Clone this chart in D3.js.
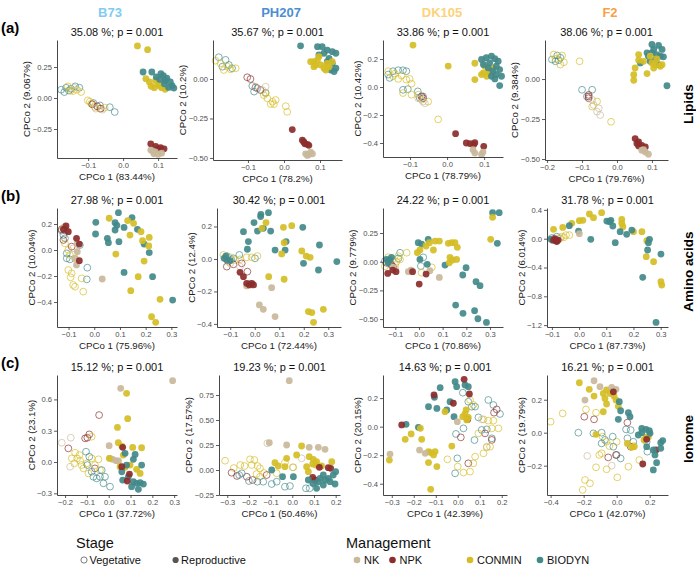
<!DOCTYPE html>
<html><head><meta charset="utf-8">
<script src="https://cdn.jsdelivr.net/npm/d3@7"></script>
<style>body{margin:0;background:#fff} text{font-family:"Liberation Sans",Arial,Helvetica,sans-serif}</style>
</head><body><svg id="c" width="696" height="571"></svg>
<script>
// ---------------- DATA ----------------
const genotypes = ["B73","PH207","DK105","F2"];
const traits = ["Lipids","Amino acids","Ionome"];
const panelLetters = ["(a)","(b)","(c)"];
const effectSize = [["35.08","35.67","33.86","38.06"],["27.98","30.42","24.22","31.78"],["15.12","19.23","14.63","16.21"]];
const pValue = "0.001";
const pco1Pct = [["83.44","78.2","78.79","79.76"],["75.96","72.44","70.86","87.73"],["37.72","50.46","42.39","42.07"]];
const pco2Pct = [["9.067","10.2","10.42","9.384"],["10.04","12.4","9.779","6.014"],["23.1","17.57","20.15","19.79"]];
const managements = ["NK","NPK","CONMIN","BIODYN"];
const stages = ["Vegetative","Reproductive"];

const xTickValues = [
 [[-0.1,0,0.1],[-0.1,0,0.1],[-0.1,0,0.1],[-0.2,-0.1,0,0.1]],
 [[-0.1,0,0.1,0.2,0.3],[-0.1,0,0.1,0.2,0.3],[-0.1,0,0.1,0.2,0.3],[-0.1,0,0.1,0.2,0.3]],
 [[-0.2,-0.1,0,0.1,0.2,0.3],[-0.3,-0.2,-0.1,0,0.1,0.2],[-0.3,-0.2,-0.1,0,0.1,0.2],[-0.4,-0.2,0,0.2]]
];
const yTickValues = [
 [[-0.25,0,0.25],[-0.5,-0.25,0],[-0.4,-0.2,0,0.2],[-0.5,-0.25,0]],
 [[-0.4,-0.2,0,0.2],[-0.4,-0.2,0,0.2],[-0.5,-0.25,0,0.25],[-1.2,-0.8,-0.4,0,0.4]],
 [[-0.3,0,0.3,0.6],[-0.25,0,0.25,0.5,0.75],[-0.4,-0.2,0,0.2],[-0.2,0,0.2]]
];
const yTickFormat = [[".2f",".2f",".1f",".2f"],[".1f",".1f",".2f",".1f"],[".1f",".2f",".1f",".1f"]];

// Points: [management, stage (V = vegetative, R = reproductive), [[PCo1, PCo2], ...]]
const lipB73 = [
 ["BIODYN","V",[[-0.177,0.067],[-0.168,0.048],[-0.163,0.083],[-0.149,0.075],[-0.137,0.094],[-0.125,0.083],[-0.155,0.06],[-0.085,-0.04],[-0.066,-0.06],[-0.038,-0.074],[-0.024,-0.113]]],
 ["CONMIN","V",[[-0.158,0.094],[-0.143,0.056],[-0.132,0.067],[-0.12,0.048],[-0.15,0.06],[-0.101,-0.019],[-0.091,-0.046],[-0.081,-0.073],[-0.067,-0.086],[-0.053,-0.078],[-0.095,-0.03]]],
 ["NPK","V",[[-0.088,-0.051],[-0.074,-0.067],[-0.064,-0.086]]],
 ["NK","V",[[-0.14,0.083],[-0.059,-0.094],[-0.078,-0.086]]],
 ["CONMIN","R",[[0.041,0.42],[0.07,0.39],[0.065,0.156],[0.093,0.142],[0.103,0.10],[0.089,0.083],[0.11,0.083],[0.12,0.07],[0.08,0.095],[0.075,0.13],[0.1,0.12]]],
 ["BIODYN","R",[[0.057,0.21],[0.082,0.21],[0.108,0.196],[0.115,0.18],[0.125,0.16],[0.135,0.13],[0.14,0.10],[0.13,0.085],[0.145,0.08],[0.12,0.14],[0.105,0.15],[0.095,0.17],[0.118,0.115]]],
 ["NPK","R",[[0.079,-0.37],[0.093,-0.39],[0.107,-0.40],[0.117,-0.41],[0.1,-0.41]]],
 ["NK","R",[[0.079,-0.42],[0.088,-0.45],[0.1,-0.455],[0.092,-0.435],[0.11,-0.445],[0.085,-0.43]]]
];
const lipPH207 = [
 ["BIODYN","V",[[-0.181,0.138],[-0.162,0.121],[-0.153,0.089],[-0.171,0.078],[-0.144,0.068],[-0.088,-0.044],[-0.074,-0.059],[-0.083,-0.08],[-0.051,-0.087]]],
 ["CONMIN","V",[[-0.19,0.116],[-0.176,0.099],[-0.157,0.078],[-0.148,0.061],[-0.134,0.068],[-0.167,0.057],[-0.056,-0.102],[-0.046,-0.123],[-0.032,-0.144],[-0.023,-0.133],[-0.037,-0.159],[-0.028,-0.159],[0.005,-0.172],[0.009,-0.208],[-0.051,-0.091]]],
 ["NPK","V",[[-0.102,0.011],[-0.093,0],[-0.079,-0.053],[-0.065,-0.07]]],
 ["NK","V",[[-0.079,-0.049],[-0.06,-0.07],[-0.051,-0.049]]],
 ["BIODYN","R",[[0.046,0.21],[0.093,0.205],[0.106,0.205],[0.12,0.183],[0.134,0.173],[0.144,0.163],[0.125,0.131],[0.134,0.099],[0.144,0.068],[0.13,0.057],[0.139,0.047],[0.111,0.163],[0.097,0.152],[0.12,0.11]]],
 ["CONMIN","R",[[0.083,0.11],[0.093,0.121],[0.102,0.089],[0.111,0.068],[0.097,0.142],[0.12,0.099],[0.134,0.11],[0.116,0.057],[0.088,0.089],[0.074,0.11],[0.083,0.078],[0.125,0.078]]],
 ["NPK","R",[[0.023,-0.32],[0.051,-0.388],[0.058,-0.41],[0.065,-0.414],[0.069,-0.42],[0.055,-0.399]]],
 ["NK","R",[[0.06,-0.474],[0.069,-0.478],[0.074,-0.463],[0.065,-0.484],[0.079,-0.474]]]
];
const lipDK105 = [
 ["BIODYN","V",[[-0.159,0.089],[-0.146,0.113],[-0.132,0.12],[-0.119,0.12],[-0.11,0.113],[-0.155,0.065],[-0.119,-0.02],[-0.106,-0.015],[-0.079,-0.031],[-0.065,-0.067],[-0.074,-0.077]]],
 ["CONMIN","V",[[-0.159,0.113],[-0.146,0.077],[-0.132,0.058],[-0.123,0.082],[-0.11,0.053],[-0.141,0.096],[-0.101,0.058],[-0.096,0.024],[-0.119,-0.043],[-0.096,-0.055],[-0.078,-0.055],[-0.051,-0.104],[-0.069,-0.091],[-0.024,-0.231]]],
 ["NPK","V",[[-0.069,-0.067],[-0.065,-0.08]]],
 ["NK","V",[[-0.078,-0.08],[-0.065,-0.104],[-0.06,-0.116]]],
 ["CONMIN","R",[[-0.092,0.30],[0.003,0.15],[0.075,0.17],[0.075,0.053],[0.098,0.101],[0.111,0.113],[0.102,0.149],[0.125,0.137],[0.116,0.096],[0.107,0.077],[0.093,0.089],[0.12,0.125]]],
 ["BIODYN","R",[[0.093,0.197],[0.106,0.209],[0.12,0.221],[0.129,0.202],[0.138,0.185],[0.115,0.173],[0.133,0.149],[0.142,0.125],[0.124,0.113],[0.133,0.089],[0.147,0.077],[0.111,0.137],[0.098,0.161],[0.12,0.077],[0.129,0.058],[0.142,0.01]]],
 ["NPK","R",[[0.023,-0.333],[0.052,-0.40],[0.063,-0.405],[0.072,-0.41],[0.075,-0.398],[0.099,-0.424]]],
 ["NK","R",[[0.07,-0.448],[0.075,-0.472],[0.093,-0.482],[0.097,-0.465]]]
];
const lipF2 = [
 ["BIODYN","V",[[-0.186,0.122],[-0.171,0.147],[-0.162,0.133],[-0.176,0.111],[-0.167,0.118],[-0.1,-0.067],[-0.071,-0.067],[-0.086,-0.109]]],
 ["CONMIN","V",[[-0.181,0.153],[-0.157,0.147],[-0.152,0.105],[-0.162,0.09],[-0.176,0.126],[-0.107,0.111],[-0.057,-0.14],[-0.071,-0.172],[-0.017,-0.267]]],
 ["NPK","V",[[-0.081,-0.099],[-0.081,-0.12],[-0.081,-0.109]]],
 ["NK","V",[[-0.071,-0.13],[-0.067,-0.162],[-0.052,-0.183],[-0.057,-0.204],[-0.048,-0.225]]],
 ["BIODYN","R",[[0.1,0.216],[0.119,0.21],[0.129,0.185],[0.105,0.185],[0.086,0.164],[0.114,0.153],[0.124,0.143],[0.133,0.139],[0.11,0.122],[0.095,0.111],[0.067,0.101],[0.119,0.09],[0.1,0.164],[0.09,0.143],[0.143,-0.042]]],
 ["CONMIN","R",[[0.062,0.153],[0.062,0.118],[0.052,0.069],[0.048,0.027],[0.048,-0.008],[0.086,0.034],[0.105,0.069],[0.11,0.09],[0.124,0.08],[0.1,0.101],[0.114,0.126],[0.076,0.111],[0.095,0.143],[0.129,0.09]]],
 ["NPK","R",[[0.052,-0.372],[0.062,-0.393],[0.071,-0.414],[0.081,-0.424],[0.062,-0.418],[0.057,-0.403]]],
 ["NK","R",[[0.071,-0.445],[0.081,-0.456],[0.09,-0.47],[0.076,-0.441]]]
];
const aaB73 = [
 ["BIODYN","V",[[-0.127,0.149],[-0.114,0.09],[-0.107,-0.026],[-0.107,-0.064],[-0.095,-0.072],[-0.056,0.038],[-0.027,-0.136],[-0.029,-0.226],[-0.12,0.115]]],
 ["CONMIN","V",[[-0.12,0.167],[-0.114,0.051],[-0.101,0],[-0.095,-0.038],[-0.101,-0.154],[-0.088,-0.179],[-0.092,-0.21],[-0.082,-0.269],[-0.075,-0.282],[-0.043,-0.32],[-0.049,-0.218],[-0.075,-0.064]]],
 ["NPK","V",[[-0.127,0.159],[-0.114,0.154],[-0.12,0.077],[-0.088,0.026]]],
 ["NK","V",[[-0.118,0.174],[-0.082,0.013]]],
 ["BIODYN","R",[[0.006,0.213],[0.005,0.123],[0.094,0.287],[0.081,0.21],[0.088,0.19],[0.081,0.154],[0.116,0.174],[0.147,0.249],[0.168,0.159],[0.051,0.09],[0.055,0.056],[0.096,0.064],[0.194,0.046],[0.214,-0.02],[0.116,-0.172],[0.227,-0.205],[0.305,-0.385]]],
 ["CONMIN","R",[[0.058,0.244],[0.13,0.226],[0.153,0.205],[0.182,0.141],[0.139,0.115],[0.188,0.072],[0.214,0.097],[0.212,0.031],[0.194,-0.085],[0.084,-0.031],[0.171,-0.205],[0.142,-0.313],[0.256,-0.379],[0.223,-0.513],[0.239,-0.556]]],
 ["NK","R",[[0.031,-0.223],[-0.066,0.051],[-0.066,-0.013],[-0.069,-0.115],[-0.075,-0.064]]],
 ["NPK","R",[[-0.101,0.141],[-0.069,0.09],[-0.058,0.046],[-0.058,-0.082],[-0.12,0.159],[-0.11,0.185]]]
];
const aaPH207 = [
 ["BIODYN","V",[[-0.114,0.018],[-0.087,0.004],[-0.063,0.025],[-0.095,-0.006],[0.001,0.004]]],
 ["CONMIN","V",[[-0.128,0.025],[-0.1,0.01],[-0.08,-0.006],[-0.06,-0.002],[-0.033,0.01],[-0.012,0.01],[0.011,0.018],[-0.107,-0.016]]],
 ["NPK","V",[[-0.114,-0.047],[-0.087,-0.033],[-0.053,-0.027],[-0.03,-0.078]]],
 ["NK","V",[[-0.1,-0.027],[-0.06,-0.047]]],
 ["BIODYN","R",[[-0.046,0.168],[-0.026,0.107],[-0.03,0.06],[-0.003,0.224],[0.024,0.261],[0.025,0.275],[0.011,0.172],[0.035,0.189],[0.056,0.285],[0.065,0.172],[0.083,0.055],[0.124,0.055],[0.128,0.107],[0.196,0.195],[0.264,0.086],[0.335,-0.016],[0.26,-0.068],[0.199,-0.027],[-0.125,0.004],[-0.114,-0.006],[-0.1,-0.01],[-0.118,0.018]]],
 ["CONMIN","R",[[0.029,0.189],[0.046,0.224],[0.117,0.195],[0.151,0.205],[0.12,0.1],[0.11,0.031],[0.192,0.049],[0.21,0.018],[0.226,0.01],[0.057,-0.109],[0.12,-0.125],[0.28,-0.31],[0.219,-0.324],[0.233,-0.33],[0.24,-0.39]]],
 ["NK","R",[[0.019,-0.283],[0.035,-0.31],[0.083,-0.355],[0.069,-0.177],[-0.033,-0.166],[-0.019,-0.15]]],
 ["NPK","R",[[-0.06,-0.082],[-0.046,-0.109],[-0.022,-0.16],[-0.012,-0.15],[-0.033,-0.15],[-0.005,-0.16]]]
];
const aaDK105 = [
 ["BIODYN","V",[[-0.087,0.029],[-0.08,0.078],[0.018,0.038],[0.008,-0.038],[-0.144,0.005],[-0.12,-0.02]]],
 ["CONMIN","V",[[-0.052,0.078],[-0.087,0.049],[-0.08,0.02],[-0.101,-0.029],[0.011,-0.096],[0.054,-0.049],[-0.144,-0.04],[-0.13,0.04],[-0.095,0.0]]],
 ["NPK","V",[[-0.116,-0.029],[-0.109,-0.044],[-0.137,-0.01]]],
 ["NK","V",[[-0.1,-0.06]]],
 ["BIODYN","R",[[0.311,0.427],[0.339,0.427],[0.331,0.16],[-0.003,0.166],[0.011,0.154],[0.039,0.195],[0.004,0.02],[0.035,-0.023],[0.11,-0.029],[0.199,-0.052],[0.185,-0.116],[0.241,-0.174],[0.258,-0.209],[0.155,-0.378],[0.186,-0.45],[0.235,-0.427],[0.249,-0.497],[0.285,-0.529],[-0.137,0.02],[-0.123,0.015],[-0.13,-0.009],[-0.116,0.038]]],
 ["CONMIN","R",[[0.311,0.387],[0.303,0.195],[0.004,0.102],[-0.007,0.078],[0.03,0.137],[0.044,0.166],[0.068,0.18],[0.086,0.18],[0.061,0.102],[0.124,0.16],[0.138,0.166],[0.152,0.166],[0.162,0.125],[0.159,0.02],[0.142,0.015],[0.128,-0.009],[0.131,0.038]]],
 ["NK","R",[[0.046,-0.078],[0.086,-0.137],[-0.034,-0.073],[-0.045,-0.087],[-0.109,-0.049]]],
 ["NPK","R",[[-0.132,-0.102],[-0.111,-0.073],[-0.097,-0.087],[-0.027,-0.087],[0.001,-0.195],[0.03,-0.108]]]
];
const aaF2 = [
 ["CONMIN","V",[[-0.064,0.028],[-0.048,0.05],[-0.036,0.05],[-0.07,0.005],[-0.055,0.02]]],
 ["BIODYN","V",[[-0.082,0.028],[-0.1,0.01]]],
 ["NPK","V",[[-0.09,0.0]]],
 ["NK","V",[[-0.075,0.01]]],
 ["CONMIN","R",[[-0.094,0.13],[-0.06,0.157],[-0.027,0.213],[0.001,0.25],[0.014,0.255],[0.038,0.343],[0.053,0.292],[0.083,0.361],[0.157,0.268],[0.157,0.213],[0.161,0.167],[0.2,0.097],[0.231,0.097],[0.249,-0.028],[0.247,-0.25],[0.274,-0.319],[0.301,-0.597],[0.304,-0.644]]],
 ["BIODYN","R",[[-0.036,0.18],[-0.002,0.106],[0.043,-0.009],[0.102,0.245],[0.112,0.236],[0.117,0.255],[0.124,0.176],[0.151,0.097],[0.133,-0.056],[0.175,0.06],[0.194,0.12],[0.259,-0.009],[0.255,-0.056],[0.252,-0.157],[0.234,-0.537],[0.301,-0.213],[0.283,-1.162],[-0.104,-0.005],[-0.098,-0.02]]],
 ["NK","R",[[0.001,0.069],[-0.09,-0.01],[-0.08,-0.02]]],
 ["NPK","R",[[-0.094,-0.019],[-0.085,-0.028],[-0.077,-0.019],[-0.089,-0.005],[-0.082,-0.04]]]
];
const ionB73 = [
 ["NPK","V",[[-0.044,0.45],[-0.185,0.131],[-0.108,0.227],[-0.089,0.265],[-0.098,0.233],[-0.063,-0.061]]],
 ["NK","V",[[-0.215,0.185],[-0.174,0.233],[-0.177,-0.045]]],
 ["CONMIN","V",[[-0.078,0.243],[-0.154,0.089],[-0.169,0.035],[-0.145,0.035],[-0.131,0.013],[-0.158,-0.013],[-0.124,-0.029],[-0.101,-0.013],[-0.078,0.035],[-0.047,0.026],[-0.04,-0.077],[-0.063,-0.029],[-0.093,-0.109],[-0.116,-0.061],[-0.134,0.067]]],
 ["BIODYN","V",[[-0.104,0.099],[-0.089,0.051],[-0.098,-0.029],[-0.07,-0.141],[-0.055,-0.157],[-0.04,-0.141],[-0.017,-0.141],[-0.024,-0.204],[0.006,-0.236],[-0.032,-0.077],[-0.078,-0.093]]],
 ["NK","R",[[0.055,0.706],[0.293,0.78],[0.002,0.157],[0.018,0.026],[0.034,0.013],[0.045,0.01],[0.006,0.035]]],
 ["CONMIN","R",[[0.082,0.658],[0.087,0.415],[0.04,0.332],[0.044,0.185],[0.06,0.153],[0.11,0.14],[0.151,0.137],[0.003,0.035],[0.052,-0.045],[0.075,-0.051],[0.098,-0.029],[0.128,-0.07],[0.144,-0.109],[0.067,0.067]]],
 ["BIODYN","R",[[0.113,0.026],[0.121,0.073],[0.075,0.083],[0.064,-0.173],[0.09,-0.141],[0.113,-0.188],[0.128,-0.204],[0.144,-0.198],[0.159,-0.211],[0.105,-0.236],[0.136,-0.262],[0.06,-0.093],[0.082,-0.029],[0.151,-0.029]]],
 ["NPK","R",[[0.064,0.141],[0.095,-0.115],[0.085,-0.182],[0.06,-0.045]]]
];
const ionPH207 = [
 ["NK","V",[[-0.115,0.267],[0.043,0.117],[0.005,0.027]]],
 ["CONMIN","V",[[-0.31,0.093],[-0.27,0.02],[-0.24,0.05],[-0.22,0.04],[-0.195,0.107],[-0.175,0.1],[-0.187,0.05],[-0.16,0.04],[-0.149,0.017],[-0.149,-0.067],[-0.13,-0.03],[-0.072,-0.033],[-0.034,0.073],[0.002,0.027],[-0.165,-0.04]]],
 ["NPK","V",[[-0.28,-0.027],[-0.255,-0.06],[-0.21,-0.067],[-0.183,-0.1],[-0.118,-0.05]]],
 ["BIODYN","V",[[-0.233,-0.033],[-0.245,-0.05],[-0.2,-0.11],[-0.161,-0.117],[-0.134,-0.117],[-0.095,-0.14],[-0.072,-0.117],[-0.034,-0.167],[-0.011,-0.16],[0.063,-0.183],[0.08,-0.183],[0.097,-0.133]]],
 ["NK","R",[[-0.014,0.893],[-0.106,0.273],[-0.026,0.25],[0.078,0.227],[0.12,0.227],[0.151,0.207]]],
 ["CONMIN","R",[[0.043,0.24],[0.02,0.15],[-0.026,0.117],[-0.08,0.073],[-0.065,0.04],[-0.034,0.033],[0.078,0.133],[0.097,0.107],[0.112,0.083],[0.094,0.06],[0.109,0.05],[0.135,0.04],[0.182,0.083],[0.074,-0.017],[0.066,0.033]]],
 ["NPK","R",[[0.125,0.027],[0.166,0.023],[0.177,0.017],[0.094,-0.073],[0.105,-0.1]]],
 ["BIODYN","R",[[-0.095,0],[-0.045,-0.067],[0.005,-0.067],[0.112,-0.183],[0.128,-0.083],[0.143,-0.05],[0.166,-0.083],[0.189,-0.05],[0.197,-0.14],[0.143,-0.15],[0.097,-0.133],[0.074,-0.1],[0.174,-0.117],[0.151,-0.1],[0.12,-0.117],[0.2,-0.017]]]
];
const ionDK105 = [
 ["BIODYN","V",[[0.023,0.238],[0.048,0.175],[0.064,0.14],[0.079,0.14],[0.094,0.065],[0.139,0.187],[0.162,0.152],[0.192,0.089],[-0.008,-0.051],[0.026,-0.012],[0.076,-0.094],[0.109,-0.023],[0.132,-0.019],[-0.002,-0.222],[-0.012,-0.327],[0.155,-0.082]]],
 ["NPK","V",[[0.014,-0.075],[0.048,-0.257],[0.124,-0.047],[0.155,-0.093],[0.165,0.098],[0.177,0.121]]],
 ["CONMIN","V",[[0.056,0.187],[0.071,0.152],[0.117,0.051],[0.139,0.042],[0.162,0.042],[0.185,-0.012],[0.155,-0.012],[0.094,-0.047],[0.147,-0.14],[0.132,-0.145],[0.117,-0.187],[0.079,-0.21],[0.071,-0.257],[0.056,-0.315],[0.026,-0.322],[-0.047,-0.229],[0.0,-0.28]]],
 ["NK","V",[[0.109,0.051],[0.132,-0.14]]],
 ["BIODYN","R",[[-0.133,0.14],[-0.106,0.206],[-0.08,0.273],[-0.095,0.128],[-0.05,0.117],[-0.035,0.175],[-0.012,0.315],[-0.005,0.28],[0.033,0.292],[0.048,0.28],[-0.017,0.07],[-0.179,-0.005],[-0.235,0.016]]],
 ["NPK","R",[[-0.108,0.222],[-0.02,0.164],[0.029,0.332],[0.053,0.229],[0.045,0.051],[-0.255,0.012]]],
 ["CONMIN","R",[[-0.058,0.105],[0.038,0.117],[0.023,0.07],[0.048,0.065],[0.033,0.09],[0.041,0.047],[-0.027,-0.136],[-0.17,-0.012],[-0.212,-0.051],[-0.164,-0.089],[-0.239,-0.089],[-0.133,-0.175],[-0.123,-0.182],[-0.103,-0.175],[-0.11,-0.198],[-0.133,-0.252],[-0.095,-0.28],[-0.311,-0.234],[-0.123,-0.439]]],
 ["NK","R",[[-0.308,-0.192],[-0.174,-0.164],[-0.148,-0.187],[-0.002,0.035]]]
];
const ionF2 = [
 ["CONMIN","V",[[-0.4,0.067],[-0.327,0.117],[-0.186,0.141],[-0.125,0.121],[-0.085,-0.024],[-0.061,-0.055],[-0.044,-0.081],[0.0,-0.055],[-0.091,-0.125],[-0.105,-0.135],[-0.125,-0.21],[-0.061,-0.222],[0.004,-0.271],[0.071,-0.206],[0.137,-0.166],[0.105,-0.081],[-0.192,-0.287],[-0.162,-0.307],[-0.206,-0.347]]],
 ["BIODYN","V",[[-0.232,0],[-0.141,-0.004],[-0.091,0],[-0.071,-0.044],[-0.024,-0.024],[0.057,0.02],[0.085,0.016],[-0.02,-0.085],[0,-0.135],[0.024,-0.156],[0.065,-0.034],[0.101,-0.055],[0.182,-0.055],[0.186,-0.115],[-0.091,-0.065]]],
 ["NPK","V",[[-0.196,0.097],[-0.137,0.081],[-0.051,-0.15],[-0.004,-0.135],[0.065,0.061],[0.085,-0.085]]],
 ["NK","V",[[-0.178,-0.141],[-0.03,-0.2]]],
 ["CONMIN","R",[[-0.226,0.303],[-0.166,0.263],[-0.137,0.222],[-0.081,0.238],[-0.061,0.259],[-0.071,0.208],[-0.04,0.238],[-0.016,0.222],[-0.004,0.198],[-0.061,0.174],[-0.081,0.127],[0.01,0.16],[0.178,-0.028],[0.192,-0.024],[0.166,-0.044],[0.065,-0.065],[0.091,-0.089],[0.105,-0.085],[-0.125,-0.01]]],
 ["NK","R",[[-0.137,0.315],[-0.192,0.198],[-0.101,0.279],[-0.03,0.275],[-0.004,0.263]]],
 ["NPK","R",[[-0.02,0.248],[0.182,-0.04],[0.158,-0.19],[0.238,-0.105]]],
 ["BIODYN","R",[[0.016,0.188],[0.01,0.081],[0.024,0.133],[0.071,0.121],[0.081,0.097],[0.152,0.026],[0.178,0.02],[0.198,0.012],[0.152,0.0],[0.131,-0.014],[0.182,-0.085],[0.222,-0.105],[0.232,-0.135],[0.267,-0.061],[0.279,-0.048],[0.267,-0.095],[0.242,-0.182],[0.222,-0.226],[0.202,-0.004]]]
];
const panelData = [[lipB73,lipPH207,lipDK105,lipF2],[aaB73,aaPH207,aaDK105,aaF2],[ionB73,ionPH207,ionDK105,ionF2]];

// ---------------- LAYOUT / STYLE ----------------
const genotypeColors = ["#80ccf1","#4b8ed3","#fdd27b","#f8a048"];
const genotypeTitleX = [110, 281, 442, 610];
const managementColors = {NK:"#c9b99b", NPK:"#8c2c2d", CONMIN:"#d5bd25", BIODYN:"#42898a"};
// [left, right, top, bottom] pixel boxes and scale domains for each panel
const panelBox = [
 [[57,177,40,158],[213,342,40,160],[383,503,40,157],[545,668,40,160]],
 [[57,177,208,327],[217,341,208,327],[383,503,208,327],[547,668,208,327]],
 [[57,177,375,495],[219,340,375,495],[383,507,375,495],[547,668,375,495]]
];
const panelXDomain = [
 [[-0.189,0.154],[-0.197,0.161],[-0.173,0.151],[-0.206,0.146]],
 [[-0.145,0.322],[-0.154,0.352],[-0.152,0.355],[-0.118,0.327]],
 [[-0.237,0.313],[-0.338,0.22],[-0.34,0.224],[-0.422,0.311]]
];
const panelYDomain = [
 [[-0.484,0.468],[-0.513,0.247],[-0.50,0.336],[-0.506,0.244]],
 [[-0.592,0.323],[-0.419,0.314],[-0.569,0.468],[-1.226,0.426]],
 [[-0.316,0.834],[-0.25,0.95],[-0.479,0.362],[-0.378,0.35]]
];

const svg = d3.select("#c");
const TICK_FS = 7.6, TITLE_FS = 9.7;
const R = 3.4;

for (let r = 0; r < 3; r++) {
  for (let c = 0; c < 4; c++) {
    const [L, Rt, T, B] = panelBox[r][c];
    const x = d3.scaleLinear().domain(panelXDomain[r][c]).range([L, Rt]);
    const y = d3.scaleLinear().domain(panelYDomain[r][c]).range([B, T]);
    const g = svg.append("g");

    const groups = panelData[r][c];
    groups.filter(d => d[1] === "V").forEach(([m, s, pts]) => {
      g.selectAll(null).data(pts).join("circle")
        .attr("cx", d => x(d[0])).attr("cy", d => y(d[1])).attr("r", R)
        .attr("fill", "none").attr("stroke", managementColors[m])
        .attr("stroke-width", 0.85).attr("stroke-opacity", 0.8);
    });
    groups.filter(d => d[1] === "R").forEach(([m, s, pts]) => {
      g.selectAll(null).data(pts).join("circle")
        .attr("cx", d => x(d[0])).attr("cy", d => y(d[1])).attr("r", R)
        .attr("fill", managementColors[m]).attr("fill-opacity", 0.92);
    });

    const xa = svg.append("g").attr("transform", `translate(0,${B})`)
      .call(d3.axisBottom(x).tickValues(xTickValues[r][c]).tickFormat(d3.format(".1f")).tickSize(3).tickSizeOuter(0));
    const ya = svg.append("g").attr("transform", `translate(${L},0)`)
      .call(d3.axisLeft(y).tickValues(yTickValues[r][c]).tickFormat(d3.format(yTickFormat[r][c])).tickSize(3).tickSizeOuter(0));
    [xa, ya].forEach(a => {
      a.select(".domain").attr("stroke", "#333").attr("stroke-width", 0.9);
      a.selectAll(".tick line").attr("stroke", "#333").attr("stroke-width", 0.8);
      a.selectAll(".tick text").attr("fill", "#4d4d4d").style("font-size", TICK_FS + "px")
        .style("font-family", '"Liberation Sans",Arial,sans-serif');
    });
    ya.selectAll(".tick text").attr("x", -5);
    xa.selectAll(".tick text").attr("y", 5);

    svg.append("text").attr("x", (L + Rt) / 2).attr("y", B + 21.5)
      .attr("text-anchor", "middle").style("font-size", TITLE_FS + "px").attr("fill", "#222")
      .text(`CPCo 1 (${pco1Pct[r][c]}%)`);
    let minX = 0;
    ya.selectAll(".tick text").each(function() { minX = Math.min(minX, -5 - this.getComputedTextLength()); });
    svg.append("text")
      .attr("transform", `translate(${L + minX - 2.5},${(T + B) / 2}) rotate(-90)`)
      .attr("text-anchor", "middle").style("font-size", TITLE_FS + "px").attr("fill", "#222")
      .text(`CPCo 2 (${pco2Pct[r][c]}%)`);

    svg.append("text").attr("x", (L + Rt) / 2).attr("y", T - 4.5)
      .attr("text-anchor", "middle").style("font-size", "11px").attr("fill", "#111")
      .text(`${effectSize[r][c]} %; p = ${pValue}`);

    if (r === 0) {
      svg.append("text").attr("x", genotypeTitleX[c]).attr("y", 17)
        .attr("text-anchor", "middle").style("font-size", "13px").style("font-weight", "bold")
        .attr("fill", genotypeColors[c]).text(genotypes[c]);
    }
    if (c === 3) {
      svg.append("text").attr("transform", `translate(693,${(T + B) / 2 + 4}) rotate(-90)`)
        .attr("text-anchor", "middle").style("font-size", "13.5px").style("font-weight", "bold")
        .attr("fill", "#000").text(traits[r]);
    }
    if (c === 0) {
      svg.append("text").attr("x", 1).attr("y", T - 7)
        .style("font-size", "15px").style("font-weight", "bold").attr("fill", "#000").text(panelLetters[r]);
    }
  }
}

// ---------------- LEGEND ----------------
const lg = svg.append("g");
lg.append("text").attr("x", 76).attr("y", 548).style("font-size", "14.5px").attr("fill", "#111").text("Stage");
lg.append("text").attr("x", 346).attr("y", 548).style("font-size", "14.5px").attr("fill", "#111").text("Management");
const stageX = [84, 175.6];
stages.forEach((s, i) => {
  const cx = stageX[i];
  lg.append("circle").attr("cx", cx).attr("cy", 560).attr("r", 3.1)
    .attr("fill", i === 0 ? "#fff" : "#555").attr("stroke", i === 0 ? "#444" : "none").attr("stroke-width", 0.7);
  lg.append("text").attr("x", cx + 5.5).attr("y", 564).style("font-size", "11px").attr("fill", "#111").text(s);
});
const mgmtX = [357, 392.5, 470, 540];
managements.forEach((m, i) => {
  const cx = mgmtX[i];
  lg.append("circle").attr("cx", cx).attr("cy", 560).attr("r", 3.3).attr("fill", managementColors[m]);
  lg.append("text").attr("x", cx + 7).attr("y", 564).style("font-size", "11px").attr("fill", "#111").text(m);
});
</script></body></html>
